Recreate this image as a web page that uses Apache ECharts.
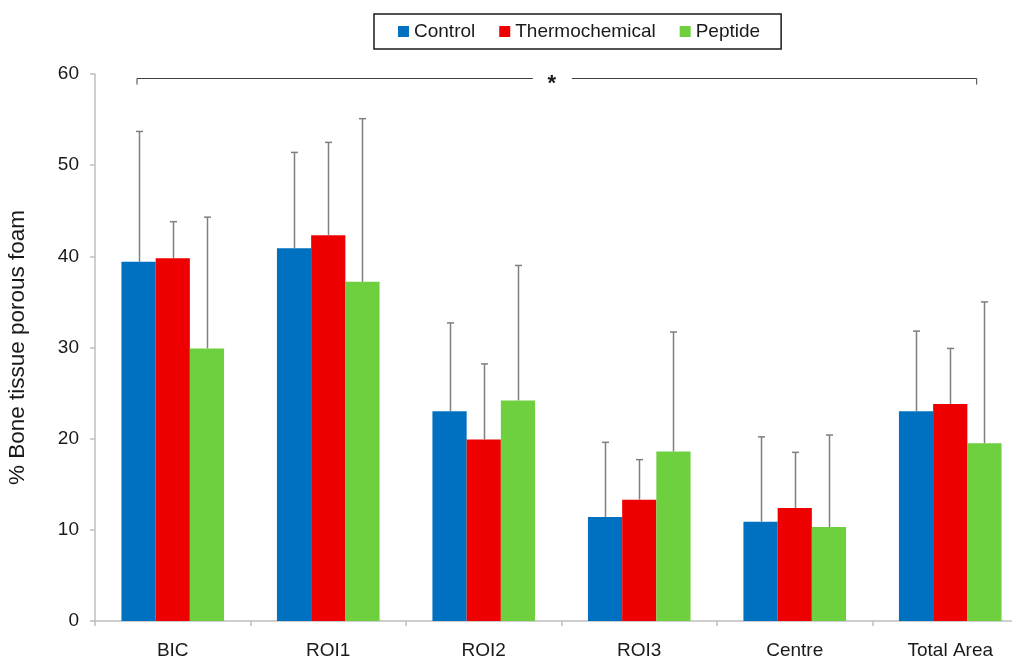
<!DOCTYPE html>
<html>
<head>
<meta charset="utf-8">
<script src="https://cdn.jsdelivr.net/npm/echarts@6/dist/echarts.min.js"></script>
<style>
html,body{margin:0;padding:0;background:#fff;}
#chart{width:1012px;height:658px;}
</style>
</head>
<body>
<div id="chart"></div>
<script>
const categories = ['BIC', 'ROI1', 'ROI2', 'ROI3', 'Centre', 'Total Area'];
const seriesNames = ['Control', 'Thermochemical', 'Peptide'];
const controlMean = [39.4, 40.9, 23.0, 11.4, 10.9, 23.0];
const controlUpper = [53.7, 51.4, 32.7, 19.6, 20.2, 31.8];
const thermoMean = [39.8, 42.3, 19.9, 13.3, 12.4, 23.8];
const thermoUpper = [43.8, 52.5, 28.2, 17.7, 18.5, 29.9];
const peptideMean = [29.9, 37.2, 24.2, 18.6, 10.3, 19.5];
const peptideUpper = [44.3, 55.1, 39.0, 31.7, 20.4, 35.0];
const yTicks = [0, 10, 20, 30, 40, 50, 60];
const bracketFrom = 'BIC';
const bracketTo = 'Total Area';
const bracketLevel = 59.6;
const bracketLabel = '*';
const yAxisTitle = '% Bone tissue porous foam';

const colors = ['#0070C0', '#EE0000', '#6ECF3F'];
const means = [controlMean, thermoMean, peptideMean];
const uppers = [controlUpper, thermoUpper, peptideUpper];
const FONT = "'Liberation Sans', Arial, sans-serif";
const CAT_GAP = 0.34;

const chart = echarts.init(document.getElementById('chart'), null, {renderer: 'canvas'});

const barSeries = seriesNames.map((name, i) => ({
  name: name,
  type: 'bar',
  data: means[i],
  barGap: '0%',
  barCategoryGap: (CAT_GAP * 100) + '%',
  itemStyle: {color: colors[i]},
  z: 2
}));

const errSeries = seriesNames.map((name, i) => ({
  name: name + ' error',
  type: 'custom',
  z: 3,
  silent: true,
  data: categories.map((c, k) => [k, means[i][k], uppers[i][k]]),
  renderItem: function (params, api) {
    const catW = api.size([1, 0])[0];
    const bw = catW * (1 - CAT_GAP) / 3;
    const off = (i - 1) * bw;
    const base = api.coord([api.value(0), api.value(1)]);
    const top = api.coord([api.value(0), api.value(2)]);
    const x = Math.round(base[0] + off) + 0.5;
    const style = {stroke: '#7f7f7f', lineWidth: 1.5};
    return {
      type: 'group',
      children: [
        {type: 'line', shape: {x1: x, y1: base[1], x2: x, y2: top[1]}, style: style},
        {type: 'line', shape: {x1: x - 3.5, y1: top[1], x2: x + 3.5, y2: top[1]}, style: style}
      ]
    };
  }
}));

const bracketSeries = {
  name: 'bracket',
  type: 'custom',
  silent: true,
  z: 4,
  data: [[categories.indexOf(bracketFrom), categories.indexOf(bracketTo), bracketLevel]],
  renderItem: function (params, api) {
    const catW = api.size([1, 0])[0];
    const p1 = api.coord([api.value(0), api.value(2)]);
    const p2 = api.coord([api.value(1), api.value(2)]);
    const x1 = p1[0] - catW * 0.23;
    const x2 = p2[0] + catW * 0.17;
    const y = Math.round(p1[1]) + 0.5;
    const mid = (x1 + x2) / 2 - 5;
    return {
      type: 'group',
      children: [
        {type: 'polyline', shape: {points: [[x1, y + 6], [x1, y], [mid - 19, y]]}, style: {stroke: '#404040', lineWidth: 1, fill: null}},
        {type: 'polyline', shape: {points: [[mid + 20, y], [x2, y], [x2, y + 6]]}, style: {stroke: '#404040', lineWidth: 1, fill: null}},
        {type: 'text', x: mid, y: y + 5, style: {text: bracketLabel, fill: '#1a1a1a', font: "bold 22px 'Liberation Sans', Arial, sans-serif", align: 'center', verticalAlign: 'middle'}}
      ]
    };
  }
};

chart.setOption({
  animation: false,
  backgroundColor: '#fff',
  textStyle: {fontFamily: FONT},
  legend: {
    data: seriesNames,
    left: 374,
    top: 14,
    orient: 'horizontal',
    icon: 'rect',
    itemWidth: 11,
    itemHeight: 11,
    itemGap: 24,
    borderColor: '#1a1a1a',
    borderWidth: 1.5,
    borderRadius: 0,
    padding: [8, 21, 8, 24],
    textStyle: {fontFamily: FONT, fontSize: 19, color: '#1a1a1a'}
  },
  grid: {left: 95, top: 74, width: 933, height: 547, containLabel: false, outerBoundsMode: 'none'},
  xAxis: {
    type: 'category',
    data: categories,
    axisLine: {lineStyle: {color: '#bfbfbf', width: 1.5}},
    axisTick: {show: true, alignWithLabel: false, length: 5, lineStyle: {color: '#bfbfbf', width: 1.5}},
    axisLabel: {fontFamily: FONT, fontSize: 19, color: '#1a1a1a', margin: 20},
    splitLine: {show: false}
  },
  yAxis: {
    type: 'value',
    min: yTicks[0],
    max: yTicks[yTicks.length - 1],
    interval: yTicks[1] - yTicks[0],
    name: yAxisTitle,
    nameLocation: 'middle',
    nameRotate: 90,
    nameGap: 66,
    nameTextStyle: {fontFamily: FONT, fontSize: 22.5, color: '#1a1a1a'},
    axisLine: {show: true, lineStyle: {color: '#bfbfbf', width: 1.5}},
    axisTick: {show: true, length: 5, lineStyle: {color: '#bfbfbf', width: 1.5}},
    axisLabel: {fontFamily: FONT, fontSize: 19, color: '#1a1a1a', margin: 16},
    splitLine: {show: false}
  },
  series: [...barSeries, ...errSeries, bracketSeries]
});
</script>
</body>
</html>
